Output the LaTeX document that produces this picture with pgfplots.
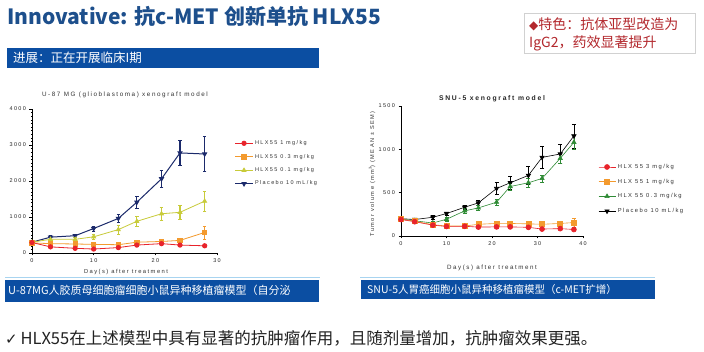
\documentclass[border=0pt]{standalone}
\usepackage{pgfplots}
\pgfplotsset{compat=1.18}
\usepackage{fontspec}
\setmainfont{Liberation Sans}
\newfontfamily\cjk{Noto Sans CJK SC}
\newfontfamily\sym{DejaVu Sans}
\newfontfamily\chartfont[LetterSpace=25]{Liberation Sans}
\definecolor{titleblue}{HTML}{1D4F8C}
\definecolor{barblue}{HTML}{0B4EA2}
\definecolor{boxred}{HTML}{B3282D}
\definecolor{lred}{HTML}{E8232B}
\definecolor{lorange}{HTML}{F39A2E}
\definecolor{lyellow}{HTML}{C8CB3A}
\definecolor{lnavy}{HTML}{1B2A6B}
\definecolor{rgreen}{HTML}{2F8B35}
\definecolor{lineblue}{HTML}{A8D4F0}
\definecolor{txtgray}{HTML}{222222}
\pgfplotsset{gp/.style={
  scale only axis, axis lines*=left, clip=false,
  tick align=outside,
  axis line style={black, line width=0.6pt},
  tick style={black, line width=0.5pt},
  major tick length=2.5pt, minor tick length=1.2pt,
  /pgf/number format/assume math mode=true,
  /pgf/number format/1000 sep={},
  scaled ticks=false,
  tick label style={font=\chartfont\fontsize{5.5}{6}\selectfont, text=black!85},
  legend style={draw=none, fill=none, font=\chartfont\fontsize{5.5}{6}\selectfont, row sep=4pt, anchor=north west, legend cell align=left, text=black!80},
  reverse legend,
  every axis plot/.append style={line width=0.8pt, mark size=2.2pt},
  error bars/error bar style={line width=0.7pt},
  error bars/error mark options={rotate=90, mark size=1.8pt, line width=0.7pt},
}}
\begin{document}
\begin{tikzpicture}[x=1pt,y=1pt]
\useasboundingbox (0,0) rectangle (704,352);
\fill[white] (0,0) rectangle (704,352);
% title
\node[anchor=base west, inner sep=0, text=titleblue] at (7,327) {\cjk\bfseries\fontsize{21}{25}\selectfont Innovative: 抗c-MET 创新单抗 HLX55};
% progress bar
\fill[barblue] (7,304) rectangle (319,284);
\node[anchor=west, inner sep=0, text=white] at (13,294) {\cjk\fontsize{12.5}{14}\selectfont 进展：正在开展临床I期};
% red box
\draw[draw=black!18, fill=white, line width=0.6pt] (524,339) rectangle (695,299);
\node[anchor=base west, inner sep=0, text=boxred] at (529,322) {{\sym\fontsize{12}{14}\selectfont ◆}\cjk\fontsize{14}{16}\selectfont 特色：抗体亚型改造为};
\node[anchor=base west, inner sep=0, text=boxred] at (529,304) {\cjk\fontsize{14}{16}\selectfont IgG2，药效显著提升};
% bottom bars
\draw[lineblue, line width=1pt] (5,74.5) -- (320,74.5);
\fill[barblue] (5,72) rectangle (319,50);
\node[anchor=west, inner sep=0, text=white] at (8,62) {\cjk\fontsize{11}{13}\selectfont U-87MG人胶质母细胞瘤细胞小鼠异种移植瘤模型（自分泌};
\draw[lineblue, line width=1pt] (360,74) -- (655,74);
\fill[barblue] (361,72) rectangle (655,53);
\node[anchor=west, inner sep=0, text=white] at (367,62.5) {\cjk\fontsize{10.5}{12}\selectfont SNU-5人胃癌细胞小鼠异种移植瘤模型（c-MET扩增）};
% conclusion
\node[anchor=west, inner sep=0, text=txtgray] at (5,14) {{\sym\fontsize{15}{17}\selectfont ✓} \cjk\fontsize{16.5}{19}\selectfont HLX55在上述模型中具有显著的抗肿瘤作用，且随剂量增加，抗肿瘤效果更强。};

% chart titles and labels
\node[text=black!80] at (125,257) {\chartfont\fontsize{6.3}{7}\selectfont U-87 MG (glioblastoma) xenograft model};
\node[text=black!80] at (126,80) {\chartfont\fontsize{5.8}{6}\selectfont Day(s) after treatment};
\node[text=black!85] at (492,253) {\chartfont\bfseries\fontsize{6.8}{7}\selectfont SNU-5 xenograft model};
\node[text=black!80] at (492,84) {\chartfont\fontsize{6.2}{7}\selectfont Day(s) after treatment};
\node[text=black!80, rotate=90] at (372,178) {\chartfont\fontsize{5.6}{6}\selectfont Tumor volume (mm\textsuperscript{3}) (MEAN ± SEM)};

% left chart
\begin{axis}[gp, at={(32pt,99pt)}, anchor=south west, width=185pt, height=144pt,
  xmin=0, xmax=30, ymin=0, ymax=4000,
  xtick={0,10,20,30}, ytick={0,1000,2000,3000,4000},
  minor y tick num=9, minor x tick num=1,
  legend style={at={(1.08,0.81)}}]
\addplot[color=lnavy, line width=1pt, mark=triangle*, mark options={rotate=180, fill=lnavy},
  error bars/.cd, y dir=both, y explicit, error bar style={line width=1.1pt}]
  coordinates {(0,300)+-(0,40) (3,440)+-(0,40) (7,480)+-(0,40) (10,680)+-(0,70) (14,960)+-(0,110) (17,1410)+-(0,160) (21,2060)+-(0,240) (24,2780)+-(0,340) (28,2750)+-(0,490)};
\addplot[color=lyellow, mark=triangle*, mark options={fill=lyellow},
  error bars/.cd, y dir=both, y explicit, error bar style={line width=1.1pt}]
  coordinates {(0,300)+-(0,50) (3,380)+-(0,50) (7,380)+-(0,60) (10,450)+-(0,60) (14,650)+-(0,120) (17,880)+-(0,130) (21,1090)+-(0,180) (24,1130)+-(0,190) (28,1440)+-(0,280)};
\addplot[color=lorange, mark=square*, mark options={fill=lorange},
  error bars/.cd, y dir=both, y explicit, error bar style={line width=1.1pt}]
  coordinates {(0,280)+-(0,40) (3,260)+-(0,40) (7,250)+-(0,40) (10,240)+-(0,40) (14,230)+-(0,40) (17,300)+-(0,50) (21,320)+-(0,50) (24,350)+-(0,50) (28,570)+-(0,180)};
\addplot[color=lred, mark=*, mark options={fill=lred},
  error bars/.cd, y dir=both, y explicit]
  coordinates {(0,290)+-(0,40) (3,170)+-(0,30) (7,130)+-(0,30) (10,110)+-(0,30) (14,150)+-(0,30) (17,220)+-(0,40) (21,260)+-(0,40) (24,220)+-(0,30) (28,200)+-(0,30)};
\legend{Placebo 10 mL/kg, HLX55 0.1 mg/kg, HLX55 0.3 mg/kg, HLX55 1 mg/kg}
\end{axis}

% right chart
\begin{axis}[gp, at={(401pt,116pt)}, anchor=south west, width=182pt, height=130pt,
  xmin=0, xmax=40, ymin=0, ymax=1500,
  xtick={0,10,20,30,40}, ytick={0,500,1000,1500},
  every axis plot/.append style={line width=0.6pt, mark size=2.5pt},
  error bars/error bar style={line width=0.5pt},
  error bars/error mark options={rotate=90, mark size=2pt, line width=0.5pt},
  legend style={at={(1.066,0.585)}, row sep=5pt, font=\chartfont\fontsize{5.8}{6}\selectfont}]
\addplot[color=black, mark=triangle*, mark options={rotate=180, fill=black},
  error bars/.cd, y dir=both, y explicit]
  coordinates {(0,200)+-(0,15) (3,190)+-(0,15) (7,216)+-(0,25) (10,259)+-(0,20) (14,332)+-(0,25) (17,382)+-(0,25) (21,548)+-(0,70) (24,614)+-(0,80) (28,699)+-(0,100) (31,907)+-(0,125) (35,946)+-(0,110) (38,1154)+-(0,140)};
\addplot[color=rgreen, mark=triangle*, mark options={fill=rgreen},
  error bars/.cd, y dir=both, y explicit]
  coordinates {(0,197)+-(0,20) (3,175)+-(0,15) (7,150)+-(0,15) (10,193)+-(0,20) (14,290)+-(0,25) (17,324)+-(0,25) (21,390)+-(0,35) (24,571)+-(0,40) (28,614)+-(0,50) (31,664)+-(0,40) (35,896)+-(0,60) (38,1081)+-(0,80)};
\addplot[color=lorange, mark=square*, mark options={fill=lorange},
  error bars/.cd, y dir=both, y explicit]
  coordinates {(0,195)+-(0,15) (3,170)+-(0,15) (7,130)+-(0,15) (10,115)+-(0,15) (14,115)+-(0,15) (17,135)+-(0,15) (21,145)+-(0,20) (24,145)+-(0,20) (28,140)+-(0,15) (31,135)+-(0,15) (35,145)+-(0,20) (38,155)+-(0,50)};
\addplot[color=lred, mark=*, mark options={fill=lred},
  error bars/.cd, y dir=both, y explicit]
  coordinates {(0,190)+-(0,15) (3,165)+-(0,15) (7,125)+-(0,15) (10,110)+-(0,15) (14,112)+-(0,10) (17,103)+-(0,10) (21,105)+-(0,10) (24,105)+-(0,10) (28,100)+-(0,10) (31,80)+-(0,10) (35,85)+-(0,10) (38,75)+-(0,10)};
\legend{Placebo 10 mL/kg, HLX 55 0.3 mg/kg, HLX 55 1 mg/kg, HLX 55 3 mg/kg}
\end{axis}
\end{tikzpicture}
\end{document}
